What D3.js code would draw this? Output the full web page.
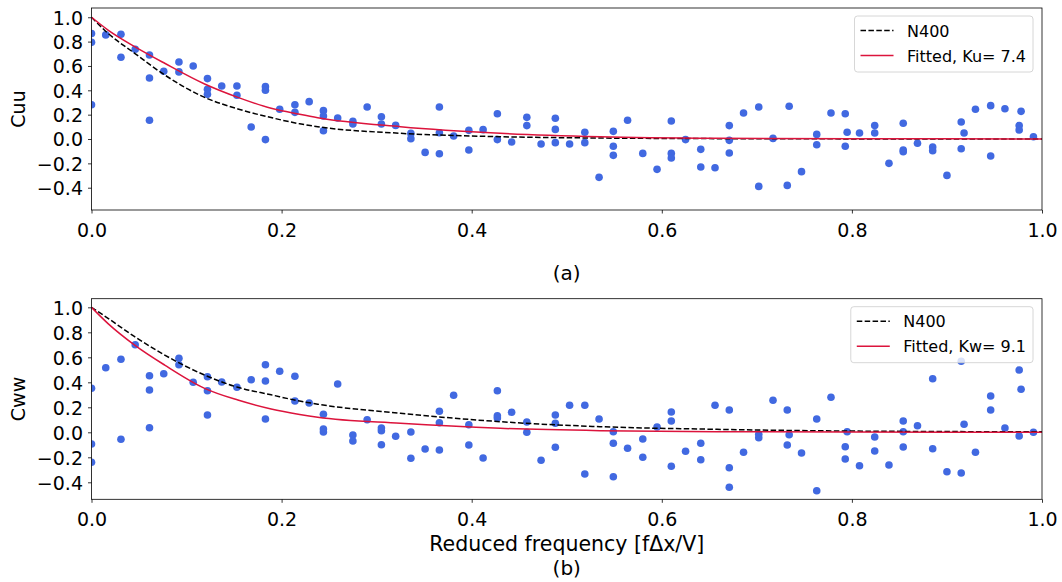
<!DOCTYPE html>
<html lang="en">
<head>
<meta charset="UTF-8">
<title>coherence</title>
<style>
  body { margin: 0; background: #fff; }
  text { font-family: "DejaVu Sans", sans-serif; fill: #000; }
</style>
</head>
<body>
<script src="https://cdn.jsdelivr.net/npm/d3@7"></script>
<script>

// measured coherence points [reduced frequency, value]
const cuuPoints = [
  [0, 0.867], [0, 0.794], [0, 0.282], [0.015, 0.855], [0.031, 0.860], [0.031, 0.671],
  [0.046, 0.737], [0.061, 0.690], [0.061, 0.501], [0.061, 0.154], [0.076, 0.556],
  [0.092, 0.633], [0.092, 0.551], [0.107, 0.600], [0.122, 0.496], [0.122, 0.408], [0.122, 0.367],
  [0.137, 0.435], [0.153, 0.435], [0.153, 0.359], [0.168, 0.099], [0.183, 0.430], [0.183, 0.400],
  [0.183, -0.005], [0.198, 0.244], [0.214, 0.282], [0.214, 0.219], [0.229, 0.307],
  [0.244, 0.233], [0.244, 0.189], [0.244, 0.068], [0.259, 0.173], [0.275, 0.145], [0.275, 0.123],
  [0.290, 0.263], [0.305, 0.183], [0.305, 0.123], [0.320, 0.112], [0.336, 0.046], [0.336, 0.003],
  [0.351, -0.110], [0.366, 0.263], [0.366, 0.052], [0.366, -0.121], [0.381, 0.025],
  [0.397, 0.071], [0.397, -0.090], [0.412, 0.077], [0.427, 0.208], [0.427, -0.005],
  [0.442, -0.025], [0.458, 0.178], [0.458, 0.110], [0.473, -0.041], [0.488, 0.170], [0.488, 0.079],
  [0.488, -0.030], [0.503, -0.041], [0.519, 0.055], [0.519, -0.030], [0.534, -0.315],
  [0.549, 0.063], [0.549, -0.060], [0.549, -0.134], [0.564, 0.154], [0.580, -0.118],
  [0.595, -0.249], [0.610, 0.148], [0.610, -0.118], [0.610, -0.156], [0.625, -0.005],
  [0.641, -0.085], [0.641, -0.230], [0.656, -0.236], [0.671, 0.110], [0.671, -0.011], [0.671, -0.115],
  [0.686, 0.214], [0.702, 0.263], [0.702, -0.389], [0.717, 0.005], [0.732, -0.381], [0.734, 0.269],
  [0.747, -0.268], [0.763, 0.038], [0.763, -0.047], [0.778, 0.214], [0.793, 0.208], [0.793, -0.060],
  [0.795, 0.055], [0.808, 0.049], [0.824, 0.110], [0.824, 0.049], [0.839, -0.200],
  [0.854, 0.129], [0.854, -0.090], [0.854, -0.104], [0.869, -0.035], [0.885, -0.066], [0.885, -0.096],
  [0.900, -0.299], [0.915, 0.140], [0.915, -0.080], [0.918, 0.049], [0.930, 0.244],
  [0.946, 0.274], [0.946, -0.140], [0.961, 0.249], [0.976, 0.110], [0.976, 0.074], [0.978, 0.227],
  [0.991, 0.019]
];

const cwwPoints = [
  [0, 0.352], [0, -0.094], [0, -0.240], [0.015, 0.517], [0.031, 0.584], [0.031, -0.056],
  [0.046, 0.701], [0.061, 0.453], [0.061, 0.338], [0.061, 0.037], [0.076, 0.469],
  [0.092, 0.592], [0.092, 0.541], [0.107, 0.400], [0.122, 0.445], [0.122, 0.333], [0.122, 0.138],
  [0.137, 0.402], [0.153, 0.360], [0.168, 0.421], [0.183, 0.541], [0.183, 0.410], [0.183, 0.106],
  [0.198, 0.488], [0.214, 0.448], [0.214, 0.250], [0.229, 0.234], [0.244, 0.144], [0.244, 0.026],
  [0.244, 0.002], [0.259, 0.386], [0.275, -0.022], [0.275, -0.070], [0.290, 0.101],
  [0.305, 0.034], [0.305, 0.013], [0.305, -0.099], [0.320, -0.032], [0.336, 0.002], [0.336, -0.207],
  [0.351, -0.134], [0.366, 0.168], [0.366, 0.077], [0.366, -0.142], [0.381, 0.296],
  [0.397, 0.061], [0.397, -0.102], [0.412, -0.206], [0.427, 0.333], [0.427, 0.133], [0.427, 0.114],
  [0.442, 0.160], [0.458, 0.082], [0.458, 0.000], [0.473, -0.224], [0.488, 0.138], [0.488, 0.072],
  [0.488, -0.120], [0.503, 0.216], [0.519, 0.216], [0.519, -0.334], [0.534, 0.106],
  [0.549, 0.005], [0.549, -0.088], [0.549, -0.355], [0.564, -0.128], [0.580, -0.054], [0.580, -0.200],
  [0.595, 0.042], [0.610, 0.162], [0.610, 0.090], [0.610, -0.272], [0.625, -0.152],
  [0.641, -0.088], [0.641, -0.219], [0.656, 0.216], [0.671, 0.178], [0.671, -0.283], [0.671, -0.440],
  [0.686, -0.160], [0.702, -0.016], [0.702, -0.043], [0.717, 0.256], [0.732, 0.178], [0.732, -0.102],
  [0.734, -0.019], [0.747, -0.166], [0.763, 0.106], [0.763, -0.467], [0.778, 0.280],
  [0.793, -0.115], [0.793, -0.214], [0.795, 0.005], [0.808, -0.267], [0.824, -0.038], [0.824, -0.150],
  [0.839, -0.262], [0.854, 0.090], [0.854, 0.005], [0.854, -0.118], [0.869, 0.053],
  [0.885, 0.429], [0.885, -0.131], [0.900, -0.315], [0.915, 0.568], [0.915, -0.326], [0.918, 0.064],
  [0.930, -0.160], [0.946, 0.290], [0.946, 0.178], [0.961, 0.034], [0.976, 0.498], [0.976, -0.030],
  [0.978, 0.344], [0.991, 0.000]
];

// curves at these frequencies
const curveFreq = [0, 0.0174, 0.0454, 0.077, 0.119, 0.154, 0.189, 0.219, 0.238, 0.325, 0.43, 0.535, 0.658, 0.8, 1.0];
const cuuN400   = [1, 0.868, 0.704, 0.526, 0.342, 0.247, 0.176, 0.125, 0.101, 0.047, 0.019, 0.008, 0.003, 0.001, 0];
const cuuFitted = [1, 0.895, 0.759, 0.622, 0.452, 0.342, 0.252, 0.203, 0.175, 0.101, 0.047, 0.019, 0.006, 0.002, 0.001];
const cwwN400   = [1, 0.912, 0.765, 0.618, 0.458, 0.360, 0.300, 0.250, 0.225, 0.152, 0.085, 0.045, 0.024, 0.010, 0.004];
const cwwFitted = [1, 0.870, 0.698, 0.538, 0.352, 0.258, 0.187, 0.143, 0.120, 0.072, 0.032, 0.013, 0.005, 0.002, 0];

const xTicks = [0, 0.2, 0.4, 0.6, 0.8, 1.0];
const yTicks = [-0.4, -0.2, 0, 0.2, 0.4, 0.6, 0.8, 1.0];

const width = 1062, height = 582;
const left = 91.5, right = 1042;
const dotColor = '#4169e1', fitColor = '#dc143c';

const svg = d3.select('body').append('svg')
    .attr('width', width)
    .attr('height', height);

const x = d3.scaleLinear().domain([0, 1]).range([left, right]);

function drawPanel(o) {
    const y = d3.scaleLinear().domain(o.yDomain).range([o.bottom, o.top]);
    const g = svg.append('g');

    g.append('clipPath').attr('id', o.id)
        .append('rect')
        .attr('x', left).attr('y', o.top)
        .attr('width', right - left).attr('height', o.bottom - o.top);

    const plot = g.append('g').attr('clip-path', 'url(#' + o.id + ')');

    plot.selectAll('circle')
        .data(o.points)
        .enter()
        .append('circle')
        .attr('cx', d => x(d[0]))
        .attr('cy', d => y(d[1]))
        .attr('r', 3.8)
        .attr('fill', dotColor);

    const line = d3.line()
        .x((d, i) => x(curveFreq[i]))
        .y(d => y(d))
        .curve(d3.curveMonotoneX);

    plot.append('path')
        .attr('d', line(o.n400))
        .attr('fill', 'none')
        .attr('stroke', 'black')
        .attr('stroke-width', 1.5)
        .attr('stroke-dasharray', '5.5,2.4');

    plot.append('path')
        .attr('d', line(o.fitted))
        .attr('fill', 'none')
        .attr('stroke', fitColor)
        .attr('stroke-width', 1.5);

    // axes
    const fmt = d3.format('.1f');
    const xAxis = g.append('g')
        .attr('transform', 'translate(0,' + o.bottom + ')')
        .call(d3.axisBottom(x).tickValues(xTicks).tickFormat(fmt).tickSize(3.5).tickPadding(5));
    const yAxis = g.append('g')
        .attr('transform', 'translate(' + left + ',0)')
        .call(d3.axisLeft(y).tickValues(yTicks).tickFormat(fmt).tickSize(3.5).tickPadding(5));

    [xAxis, yAxis].forEach(a => {
        a.select('.domain').remove();
        a.selectAll('line').attr('stroke', 'black').attr('stroke-width', 0.8);
        a.selectAll('text').style('font-size', '19px').attr('fill', 'black');
    });
    xAxis.selectAll('text').attr('dy', '0.95em');
    yAxis.selectAll('text').attr('dy', '0.36em');

    g.append('rect')
        .attr('x', left).attr('y', o.top)
        .attr('width', right - left).attr('height', o.bottom - o.top)
        .attr('fill', 'none')
        .attr('stroke', 'black')
        .attr('stroke-width', 0.8);

    g.append('text')
        .attr('transform', 'translate(18.5,' + ((o.top + o.bottom) / 2) + ') rotate(-90)')
        .attr('text-anchor', 'middle')
        .attr('dy', '0.36em')
        .style('font-size', '19px')
        .text(o.yLabel);

    // legend
    const lg = g.append('g');
    const box = lg.append('rect');
    const labels = ['N400', o.fitLabel];
    const texts = labels.map((t, i) => lg.append('text')
        .attr('y', o.top + 28.5 + i * 25)
        .style('font-size', '16px')
        .text(t));
    const textLen = d3.max(texts, t => t.node().getComputedTextLength());
    const boxW = 52.5 + textLen + 7;
    const boxL = right - 9 - boxW;
    box.attr('x', boxL).attr('y', o.top + 8)
        .attr('width', boxW).attr('height', 56)
        .attr('rx', 3)
        .attr('fill', 'white').attr('fill-opacity', 0.8)
        .attr('stroke', '#cccccc').attr('stroke-width', 0.8);
    texts.forEach(t => t.attr('x', boxL + 52.5));
    lg.append('line')
        .attr('x1', boxL + 6).attr('x2', boxL + 39)
        .attr('y1', o.top + 22.5).attr('y2', o.top + 22.5)
        .attr('stroke', 'black').attr('stroke-width', 1.5)
        .attr('stroke-dasharray', '5.5,2.4');
    lg.append('line')
        .attr('x1', boxL + 6).attr('x2', boxL + 39)
        .attr('y1', o.top + 47.5).attr('y2', o.top + 47.5)
        .attr('stroke', fitColor).attr('stroke-width', 1.5);

    if (o.xLabel) {
        svg.append('text')
            .attr('x', (left + right) / 2).attr('y', o.bottom + 52)
            .attr('text-anchor', 'middle')
            .style('font-size', '20.5px')
            .text(o.xLabel);
    }
    svg.append('text')
        .attr('x', (left + right) / 2).attr('y', o.captionY)
        .attr('text-anchor', 'middle')
        .style('font-size', '20px')
        .text(o.caption);
}

drawPanel({
    id: 'clipA', top: 8, bottom: 210, yDomain: [-0.583, 1.076],
    points: cuuPoints, n400: cuuN400, fitted: cuuFitted,
    yLabel: 'Cuu', fitLabel: 'Fitted, Ku= 7.4', caption: '(a)', captionY: 280
});

drawPanel({
    id: 'clipB', top: 298.7, bottom: 499.3, yDomain: [-0.536, 1.069],
    points: cwwPoints, n400: cwwN400, fitted: cwwFitted,
    yLabel: 'Cww', fitLabel: 'Fitted, Kw= 9.1', caption: '(b)', captionY: 575,
    xLabel: 'Reduced frequency [f\u0394x/V]'
});

</script>
</body>
</html>
